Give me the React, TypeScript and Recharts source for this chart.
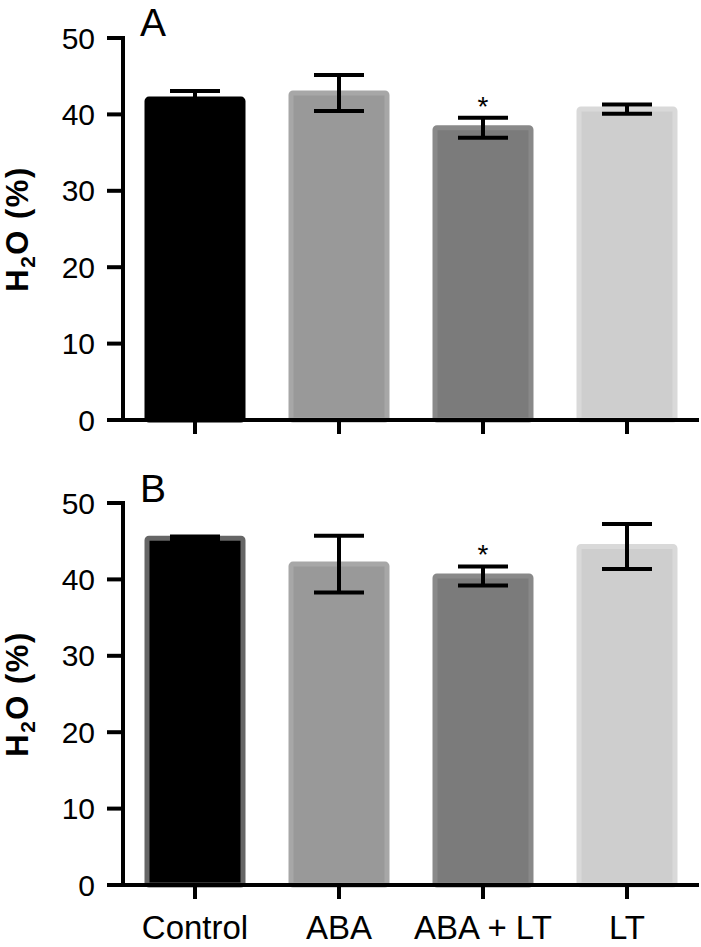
import { BarChart, Bar, XAxis, YAxis, ErrorBar, Cell, Label } from 'recharts';

const categories = ['Control', 'ABA', 'ABA + LT', 'LT'];
const meanA = [42.0, 42.8, 38.25, 40.7];
const errA = [1.05, 2.35, 1.3, 0.6];
const meanB = [45.4, 42.0, 40.45, 44.3];
const errB = [0.2, 3.7, 1.25, 2.95];
const sigA = ['', '', '*', ''];
const sigB = ['', '', '*', ''];
const yTicks = [0, 10, 20, 30, 40, 50];

const font = '"Liberation Sans", Arial, Helvetica, sans-serif';
const fills = ['#000000', '#999999', '#7b7b7b', '#cecece'];
const strokesA = ['#000000', '#a7a7a7', '#898989', '#d9d9d9'];
const strokesB = ['#666666', '#a7a7a7', '#898989', '#d9d9d9'];

function YLabel(props: any) {
  const vb = props.viewBox;
  const cx = 28;
  const cy = vb.y + vb.height / 2;
  return (
    <text
      x={cx}
      y={cy}
      transform={`rotate(-90 ${cx} ${cy})`}
      textAnchor="middle"
      fontFamily={font}
      fontWeight="bold"
      fontSize={31}
      letterSpacing={1.5}
      fill="#000"
    >
      H<tspan fontSize={21} dy={7}>2</tspan>
      <tspan dy={-7}>O (%)</tspan>
    </text>
  );
}

interface PanelProps {
  letter: string;
  letterY: number;
  mean: number[];
  err: number[];
  sig: string[];
  strokes: string[];
  height: number;
  top: number;
  xHeight: number;
  showLabels: boolean;
}

function Panel({ letter, letterY, mean, err, sig, strokes, height, top, xHeight, showLabels }: PanelProps) {
  const data = categories.map((name, i) => ({ name, mean: mean[i], err: err[i], sig: sig[i] }));

  const star = (p: any) => {
    const d = data[p.index];
    if (!d || !d.sig) return null;
    const errTop = p.y - (d.err * p.height) / p.value;
    return (
      <text key={'s' + p.index} x={p.x + p.width / 2} y={errTop - 2} textAnchor="middle" fontFamily={font} fontSize={28} fill="#000">
        {d.sig}
      </text>
    );
  };

  return (
    <BarChart width={701} height={height} data={data} margin={{ top, right: 2, left: 0, bottom: 0 }} barCategoryGap={0}>
      <Bar dataKey="mean" barSize={96} strokeWidth={5} radius={2} isAnimationActive={false} label={star}>
        {data.map((d, i) => (
          <Cell key={d.name} fill={fills[i]} stroke={strokes[i]} />
        ))}
        <ErrorBar dataKey="err" width={25} strokeWidth={4} stroke="#000" />
      </Bar>
      <XAxis
        dataKey="name"
        height={xHeight}
        tickSize={14}
        tickMargin={17}
        interval={0}
        axisLine={{ stroke: '#000', strokeWidth: 4 }}
        tickLine={{ stroke: '#000', strokeWidth: 4 }}
        tick={{ fill: '#000', fontSize: 33, fontFamily: font }}
        tickFormatter={showLabels ? undefined : () => ''}
      />
      <YAxis
        domain={[0, 50]}
        ticks={yTicks}
        interval={0}
        width={123}
        tickSize={16}
        tickMargin={12}
        axisLine={{ stroke: '#000', strokeWidth: 4, strokeLinecap: 'square' }}
        tickLine={{ stroke: '#000', strokeWidth: 4 }}
        tick={{ fill: '#000', fontSize: 30, fontFamily: font }}
        label={<Label content={YLabel} />}
      />
      <text x={140} y={letterY} fontFamily={font} fontSize={39} fill="#000">
        {letter}
      </text>
    </BarChart>
  );
}

export default function App() {
  return (
    <div style={{ position: 'absolute', left: 0, top: 0, width: 701, height: 947, background: '#fff' }}>
      <Panel letter="A" letterY={36} mean={meanA} err={errA} sig={sigA} strokes={strokesA} height={440} top={38} xHeight={20} showLabels={false} />
      <Panel letter="B" letterY={62} mean={meanB} err={errB} sig={sigB} strokes={strokesB} height={507} top={63} xHeight={62} showLabels={true} />
    </div>
  );
}
